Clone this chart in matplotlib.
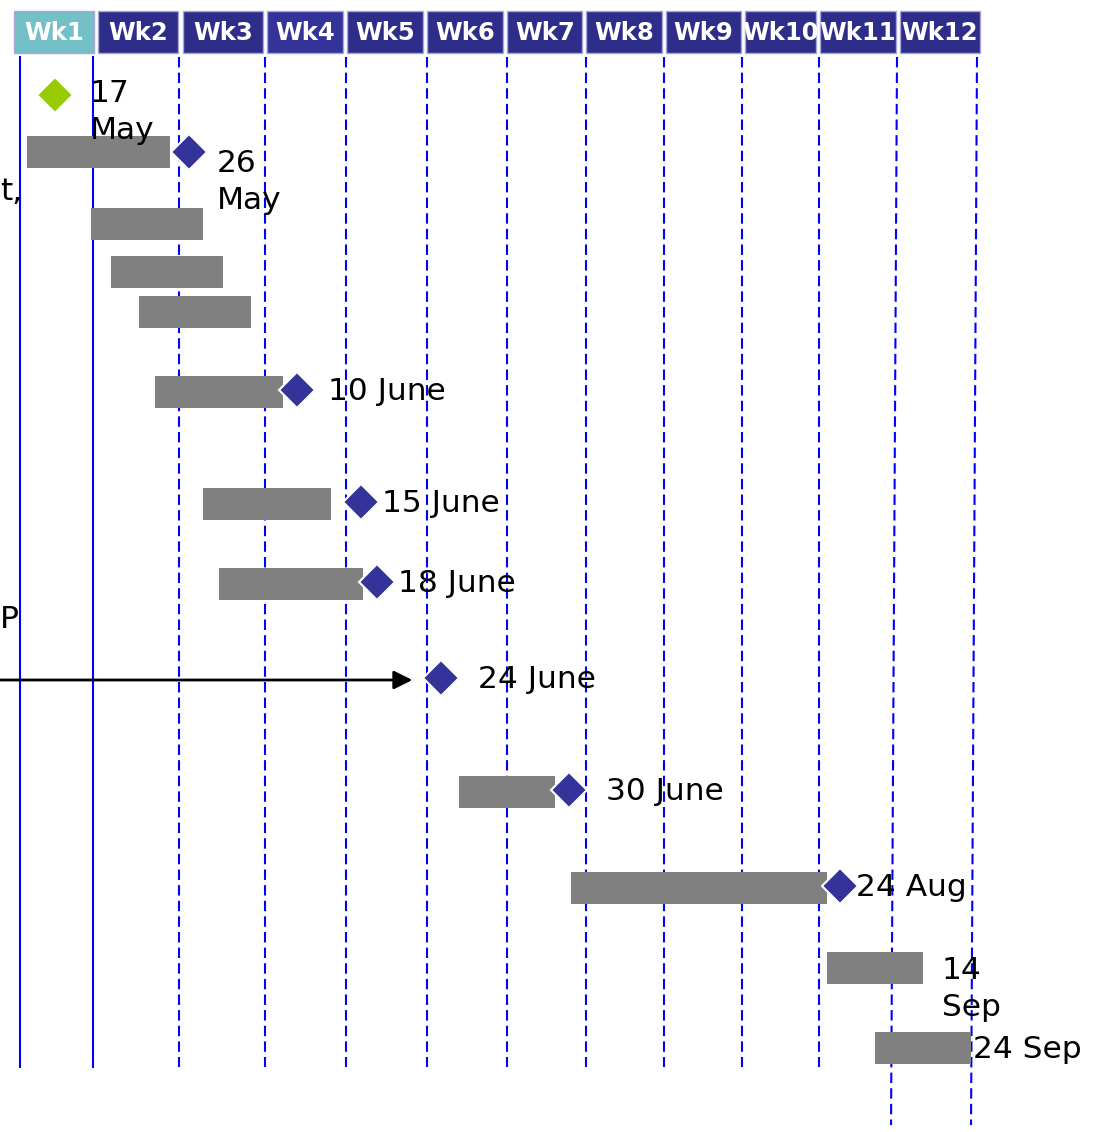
import numpy as np
import matplotlib.pyplot as plt
from matplotlib.patches import Rectangle

# week header boxes (in weeks)
weeks = ['Wk1', 'Wk2', 'Wk3', 'Wk4', 'Wk5', 'Wk6', 'Wk7', 'Wk8', 'Wk9', 'Wk10', 'Wk11', 'Wk12']
week_start = [-0.08, 0.98, 2.04, 3.10, 4.10, 5.10, 6.11, 7.10, 8.10, 9.09, 10.03, 11.03]
week_end = [0.93, 1.98, 3.05, 4.05, 5.05, 6.06, 7.05, 8.05, 9.04, 9.98, 10.98, 12.04]
week_colors = ['#73C0C6', '#2E2E8A', '#2E2E8A', '#333399', '#2E2E8A', '#2E2E8A',
               '#2E2E8A', '#2E2E8A', '#2E2E8A', '#2E2E8A', '#2E2E8A', '#2E2E8A']

# week boundary lines (top / bottom x, in weeks)
vline_top = [0, 0.915, 1.994, 3.072, 4.088, 5.103, 6.107, 7.097, 8.075, 9.053, 10.019, 10.997, 12.0]
vline_bot = [0, 0.915, 1.994, 3.072, 4.088, 5.103, 6.107, 7.097, 8.075, 9.053, 10.019, 10.922, 11.925]
vline_solid = [True, True, False, False, False, False, False, False, False, False, False, False, False]
vline_long = [False] * 11 + [True, True]

# task bars
bar_start = [0.088, 0.890, 1.141, 1.492, 1.693, 2.295, 2.495, 5.505, 6.909, 10.119, 10.721]
bar_end = [1.881, 2.295, 2.545, 2.897, 3.298, 3.900, 4.301, 6.708, 10.119, 11.323, 11.925]
bar_y = [152, 224, 272, 312, 392, 504, 584, 792, 888, 968, 1048]

# milestones
ms_x = [0.439, 2.119, 3.473, 4.276, 4.476, 5.279, 6.884, 10.282]
ms_y = [95, 152, 390, 502, 582, 678, 790, 886]
ms_color = ['#99CC00', '#333399', '#333399', '#333399', '#333399', '#333399', '#333399', '#333399']

# date labels
lab_text = ['17\nMay', '26\nMay', '10 June', '15 June', '18 June', '24 June', '30 June',
            '24 Aug', '14\nSep', '24 Sep']
lab_x = [0.878, 2.470, 3.862, 4.539, 4.740, 5.743, 7.348, 10.483, 11.561, 11.950]
lab_y = [112, 182, 392, 504, 584, 680, 792, 888, 989, 1049]

# arrow
arrow_x = [-0.26, 4.89]
arrow_y = 680

fig = plt.figure(figsize=(10.96, 11.32), dpi=100)
ax = fig.add_axes([0, 0, 1, 1])
ax.set_xlim(-20 / 79.75, 1076 / 79.75)
ax.set_ylim(1132, 0)
ax.axis('off')

# headers
for name, s, e, c in zip(weeks, week_start, week_end, week_colors):
    ax.add_patch(Rectangle((s, 11), e - s, 42, facecolor=c, edgecolor='#A8A8D8', lw=1))
    ax.text((s + e) / 2, 33, name, color='white', fontsize=17.5, fontweight='bold',
            ha='center', va='center')

# vertical lines
for xt, xb, solid, long in zip(vline_top, vline_bot, vline_solid, vline_long):
    yb = 1125 if long else 1067
    ls = '-' if solid else (0, (5, 2.5))
    ax.plot([xt, xb], [57, yb], color='#0000FF', lw=1.5, ls=ls, zorder=1)

# bars
for s, e, y in zip(bar_start, bar_end, bar_y):
    ax.add_patch(Rectangle((s, y - 16), e - s, 32, facecolor='#808080', edgecolor='none', zorder=2))

# milestones
for x, y, c in zip(ms_x, ms_y, ms_color):
    ax.plot(x, y, marker='D', ms=18.5, color=c, mec='white', mew=1.5, zorder=3)

# labels
for t, x, y in zip(lab_text, lab_x, lab_y):
    ax.text(x, y, t, fontsize=22.5, ha='left', va='center', linespacing=1.38, zorder=4)

# row labels cut by the left edge
ax.text(-0.25, 192, 't,', fontsize=22.5, ha='left', va='center')
ax.text(-0.25, 619, 'P', fontsize=22.5, ha='left', va='center')

# arrow
ax.annotate('', xy=(4.92, arrow_y), xytext=(arrow_x[0], arrow_y),
            arrowprops=dict(arrowstyle='-|>', color='black', lw=2, mutation_scale=28,
                            shrinkA=0, shrinkB=0))

fig.savefig('out.png', dpi=100)
